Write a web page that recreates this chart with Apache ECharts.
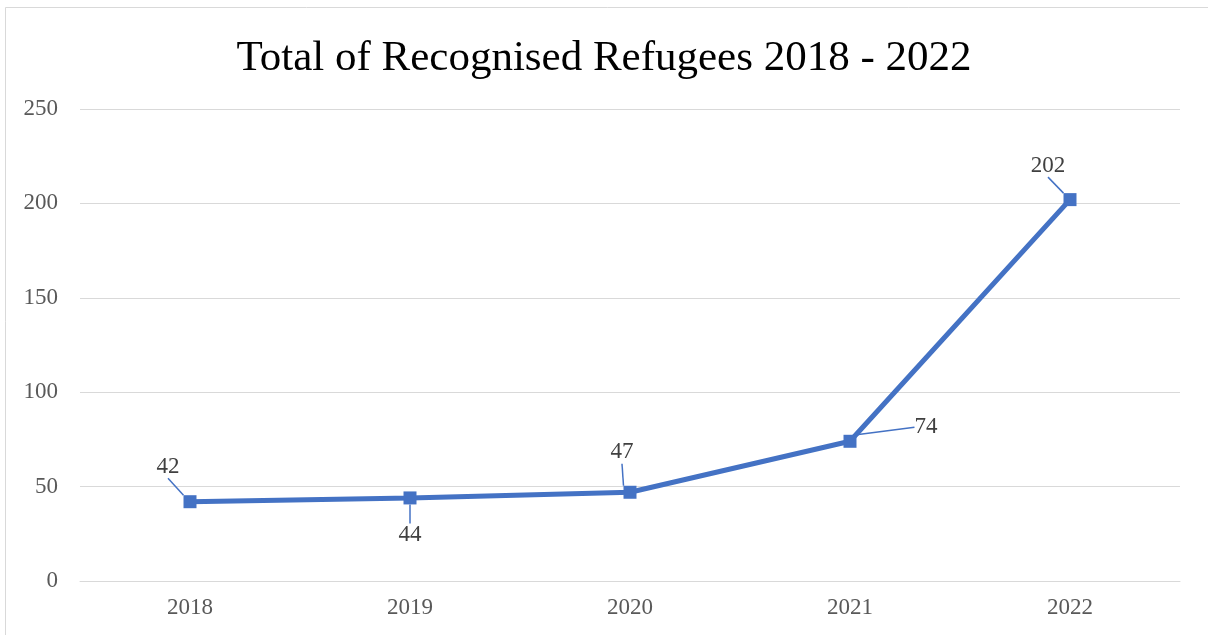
<!DOCTYPE html>
<html>
<head>
<meta charset="utf-8">
<title>Total of Recognised Refugees 2018 - 2022</title>
<script src="https://cdn.jsdelivr.net/npm/echarts@6/dist/echarts.min.js"></script>
<style>
  html, body { margin: 0; padding: 0; background: #fff; }
  #chart { width: 1208px; height: 635px; }
</style>
</head>
<body>
<div id="chart"></div>
<script>
// Recognised refugees per year
const years = ['2018', '2019', '2020', '2021', '2022'];
const refugees = [42, 44, 47, 74, 202];
const yTicks = [0, 50, 100, 150, 200, 250];

// Where each value label sits relative to its marker
const labelPlacement = [
  { position: 'top', dx: -22, dy: -12 },
  { position: 'bottom', dx: 0, dy: 14 },
  { position: 'top', dx: -8, dy: -17 },
  { position: 'right', dx: 53, dy: -14 },
  { position: 'top', dx: -22, dy: -11 }
];

const serif = '"Liberation Serif", "Times New Roman", serif';
const chart = echarts.init(document.getElementById('chart'));

chart.setOption({
  backgroundColor: '#ffffff',
  animation: false,
  title: {
    text: 'Total of Recognised Refugees 2018 - 2022',
    left: 'center',
    top: 32,
    textStyle: { fontFamily: serif, fontSize: 43, fontWeight: 'normal', color: '#000000' }
  },
  graphic: [{
    type: 'rect',
    shape: { x: 5.5, y: 7.5, width: 1220, height: 660 },
    style: { fill: 'none', stroke: '#d9d9d9', lineWidth: 1 },
    silent: true
  }],
  grid: { left: 80, right: 28, top: 109, bottom: 54 },
  xAxis: {
    type: 'category',
    data: years,
    boundaryGap: true,
    axisLine: { show: true, lineStyle: { color: '#d9d9d9', width: 1 } },
    axisTick: { show: false },
    axisLabel: { fontFamily: serif, fontSize: 23, color: '#595959', margin: 15 }
  },
  yAxis: {
    type: 'value',
    min: yTicks[0],
    max: yTicks[yTicks.length - 1],
    interval: yTicks[1] - yTicks[0],
    axisLine: { show: false },
    axisTick: { show: false },
    splitLine: { lineStyle: { color: '#d9d9d9', width: 1 } },
    axisLabel: { fontFamily: serif, fontSize: 23, color: '#595959', margin: 22 }
  },
  series: [{
    type: 'line',
    data: refugees.map((v, i) => ({
      value: v,
      label: { position: labelPlacement[i].position }
    })),
    symbol: 'rect',
    symbolSize: 13,
    lineStyle: { color: '#4472c4', width: 5 },
    itemStyle: { color: '#4472c4' },
    label: {
      show: true,
      fontFamily: serif,
      fontSize: 23,
      color: '#404040',
      distance: 5
    },
    labelLine: {
      show: true,
      lineStyle: { color: '#4472c4', width: 1.5 }
    },
    labelLayout: (params) => ({
      dx: labelPlacement[params.dataIndex].dx,
      dy: labelPlacement[params.dataIndex].dy
    })
  }]
});
</script>
</body>
</html>
